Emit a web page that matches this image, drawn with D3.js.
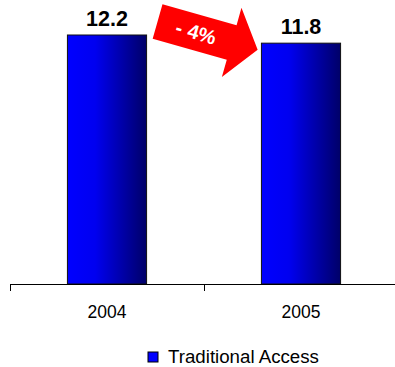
<!DOCTYPE html>
<html>
<head>
<meta charset="utf-8">
<script src="https://cdn.jsdelivr.net/npm/d3@7"></script>
<style>
  body { margin: 0; background: #fff; }
  svg { display: block; font-family: Arial, "Liberation Sans", sans-serif; }
</style>
</head>
<body>
<script>
// Chart data
const years = ['2004', '2005'];
const values = [12.2, 11.8];
const seriesName = 'Traditional Access';
const changeLabel = '- 4%';

const width = 395;
const height = 367;
const axisY = 284;

const svg = d3.select('body')
  .append('svg')
  .attr('width', width)
  .attr('height', height);

// Gradient for bars (bright blue -> navy)
const defs = svg.append('defs');
const grad = defs.append('linearGradient')
  .attr('id', 'barGrad')
  .attr('x1', '0%').attr('x2', '100%')
  .attr('y1', '0%').attr('y2', '0%');
grad.append('stop').attr('offset', '0%').attr('stop-color', '#0000ff');
grad.append('stop').attr('offset', '35%').attr('stop-color', '#0000f0');
grad.append('stop').attr('offset', '100%').attr('stop-color', '#000068');

// Scales
const x = d3.scaleBand()
  .domain(years)
  .range([10, 398])
  .padding(0);

const y = d3.scaleLinear()
  .domain([0, 14])
  .range([axisY, axisY - 14 * 20.41]);

const barW = x.bandwidth() * 0.408;

// Bars
svg.selectAll('rect.bar')
  .data(values)
  .enter()
  .append('rect')
  .attr('class', 'bar')
  .attr('x', (d, i) => x(years[i]) + x.bandwidth() / 2 - barW / 2)
  .attr('y', d => y(d))
  .attr('width', barW)
  .attr('height', d => axisY - y(d))
  .attr('fill', 'url(#barGrad)')
  .attr('stroke', '#111')
  .attr('stroke-width', 1);

// Value labels
svg.selectAll('text.val')
  .data(values)
  .enter()
  .append('text')
  .attr('class', 'val')
  .text(d => d.toFixed(1))
  .attr('x', (d, i) => x(years[i]) + x.bandwidth() / 2)
  .attr('y', d => y(d) - 9)
  .attr('text-anchor', 'middle')
  .attr('font-size', '21.5px')
  .attr('font-weight', 'bold')
  .attr('fill', '#000');

// X axis: baseline with ticks at band edges (Excel style)
svg.append('line')
  .attr('x1', x.range()[0]).attr('x2', width)
  .attr('y1', axisY + 0.5).attr('y2', axisY + 0.5)
  .attr('stroke', '#000');

const tickPos = years.map(d => x(d)).concat([x.range()[1]]);
svg.selectAll('line.tick')
  .data(tickPos)
  .enter()
  .append('line')
  .attr('class', 'tick')
  .attr('x1', d => Math.round(d) + 0.5).attr('x2', d => Math.round(d) + 0.5)
  .attr('y1', axisY).attr('y2', axisY + 7)
  .attr('stroke', '#000');

svg.selectAll('text.cat')
  .data(years)
  .enter()
  .append('text')
  .attr('class', 'cat')
  .text(d => d)
  .attr('x', d => x(d) + x.bandwidth() / 2)
  .attr('y', 318)
  .attr('text-anchor', 'middle')
  .attr('font-size', '17.5px')
  .attr('fill', '#000');

// Change arrow between the bars
const arrowX = x(years[0]) + x.bandwidth() / 2 + barW / 2 + 11;
const arrowY = y(values[0]) - 13.5;
const L = 104, hl = 27, sw = 18, hw = 36;
const arrow = svg.append('g')
  .attr('transform', `translate(${arrowX}, ${arrowY}) rotate(15.8)`);
arrow.append('polygon')
  .attr('points', [
    [0, -sw], [L - hl, -sw], [L - hl, -hw], [L, 0],
    [L - hl, hw], [L - hl, sw], [0, sw]
  ].map(p => p.join(',')).join(' '))
  .attr('fill', '#ff0000');
arrow.append('text')
  .text(changeLabel)
  .attr('x', 40)
  .attr('y', 7)
  .attr('text-anchor', 'middle')
  .attr('font-size', '20px')
  .attr('font-weight', 'bold')
  .attr('fill', '#fff');

// Legend
const legend = svg.append('g')
  .attr('transform', 'translate(148, 352)');
legend.append('rect')
  .attr('width', 10)
  .attr('height', 10)
  .attr('fill', '#0000ff')
  .attr('stroke', '#000')
  .attr('stroke-width', 1);
legend.append('text')
  .text(seriesName)
  .attr('x', 20)
  .attr('y', 10.5)
  .attr('font-size', '18.7px')
  .attr('fill', '#000');
</script>
</body>
</html>
